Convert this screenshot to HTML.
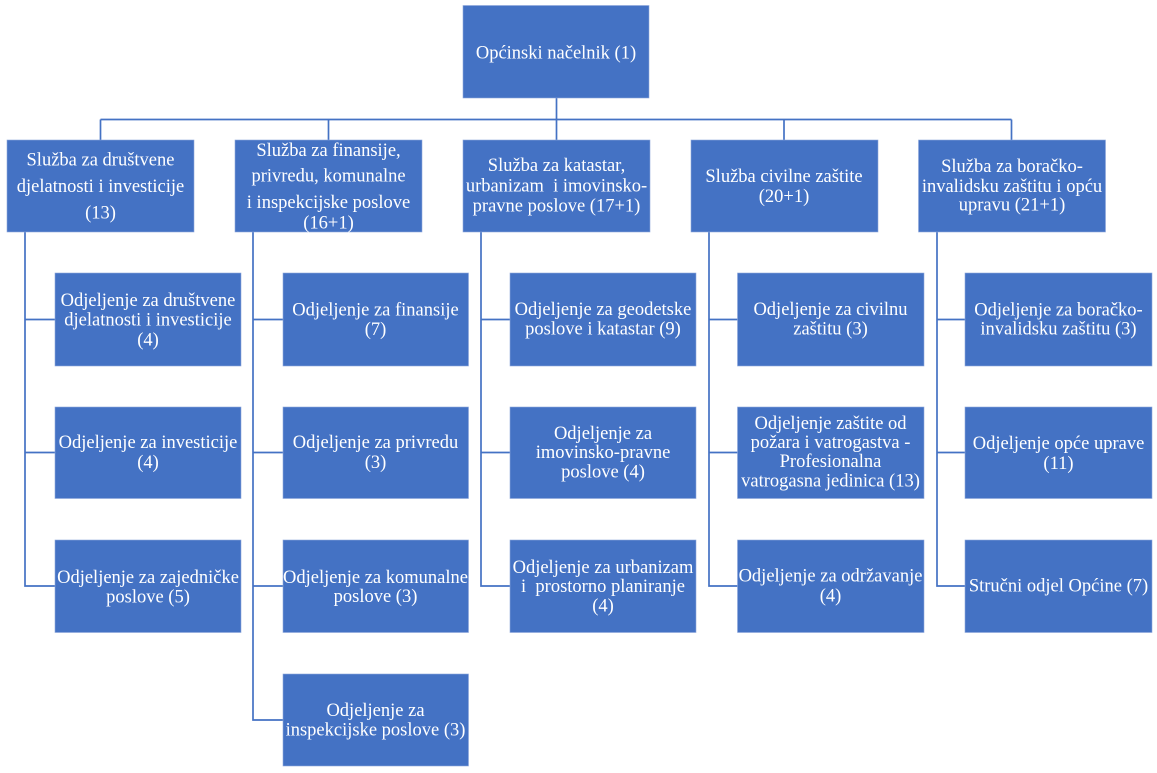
<!DOCTYPE html>
<html>
<head>
<meta charset="utf-8">
<style>
html,body{margin:0;padding:0;background:#fff;}
svg{display:block;}
text{font-family:"Liberation Serif","Times New Roman",serif;font-size:18.5px;fill:#fff;text-anchor:middle;white-space:pre;}
</style>
</head>
<body>
<svg width="1157" height="773" viewBox="0 0 1157 773" xmlns="http://www.w3.org/2000/svg" xml:space="preserve">
<g stroke="#4472C4" stroke-width="1.7" fill="none">
  <line x1="556.5" y1="98" x2="556.5" y2="140"/>
  <line x1="100.5" y1="119.5" x2="1011.5" y2="119.5"/>
  <line x1="100.5" y1="119.5" x2="100.5" y2="140"/>
  <line x1="328.5" y1="119.5" x2="328.5" y2="140"/>
  <line x1="784" y1="119.5" x2="784" y2="140"/>
  <line x1="1011.5" y1="119.5" x2="1011.5" y2="140"/>
  <!-- col1 -->
  <polyline points="25,232 25,586 55,586"/>
  <line x1="25" y1="319.5" x2="55" y2="319.5"/>
  <line x1="25" y1="452.5" x2="55" y2="452.5"/>
  <!-- col2 -->
  <polyline points="253,232 253,720 283,720"/>
  <line x1="253" y1="319.5" x2="283" y2="319.5"/>
  <line x1="253" y1="452.5" x2="283" y2="452.5"/>
  <line x1="253" y1="586" x2="283" y2="586"/>
  <!-- col3 -->
  <polyline points="481,232 481,586 510,586"/>
  <line x1="481" y1="319.5" x2="510" y2="319.5"/>
  <line x1="481" y1="452.5" x2="510" y2="452.5"/>
  <!-- col4 -->
  <polyline points="709,232 709,586 738,586"/>
  <line x1="709" y1="319.5" x2="738" y2="319.5"/>
  <line x1="709" y1="452.5" x2="738" y2="452.5"/>
  <!-- col5 -->
  <polyline points="937,232 937,586 966,586"/>
  <line x1="937" y1="319.5" x2="966" y2="319.5"/>
  <line x1="937" y1="452.5" x2="966" y2="452.5"/>
</g>
<g fill="#4472C4" stroke="#8fa9dc" stroke-width="0.6">
  <rect x="463" y="5.5" width="186" height="92.5"/>
  <rect x="7" y="140" width="187" height="92"/>
  <rect x="235" y="140" width="187" height="92"/>
  <rect x="463" y="140" width="187" height="92"/>
  <rect x="691" y="140" width="187" height="92"/>
  <rect x="918.5" y="140" width="187" height="92"/>

  <rect x="55" y="273" width="186" height="93"/>
  <rect x="55" y="407" width="186" height="91.5"/>
  <rect x="55" y="540" width="186" height="92.5"/>

  <rect x="283" y="273" width="185.5" height="93"/>
  <rect x="283" y="407" width="185.5" height="91.5"/>
  <rect x="283" y="540" width="185.5" height="92.5"/>
  <rect x="283" y="674" width="185.5" height="92"/>

  <rect x="510" y="273" width="186" height="93"/>
  <rect x="510" y="407" width="186" height="91.5"/>
  <rect x="510" y="540" width="186" height="92.5"/>

  <rect x="737.5" y="273" width="186.5" height="93"/>
  <rect x="737.5" y="407" width="186.5" height="91.5"/>
  <rect x="737.5" y="540" width="186.5" height="92.5"/>

  <rect x="965" y="273" width="187" height="93"/>
  <rect x="965" y="407" width="187" height="91.5"/>
  <rect x="965" y="540" width="187" height="92.5"/>
</g>

<text x="556" y="58.5">Općinski načelnik (1)</text>

<text x="100.5" y="165.5">Služba za društvene</text>
<text x="100.5" y="192">djelatnosti i investicije</text>
<text x="100.5" y="218.5">(13)</text>

<text x="328.5" y="156">Služba za finansije,</text>
<text x="328.5" y="181.5">privredu, komunalne</text>
<text x="328.5" y="208">i inspekcijske poslove</text>
<text x="328.5" y="228.5">(16+1)</text>

<text x="556.5" y="171">Služba za katastar,</text>
<text x="556.5" y="191.5">urbanizam  i imovinsko-</text>
<text x="556.5" y="211.5">pravne poslove (17+1)</text>

<text x="784" y="182">Služba civilne zaštite</text>
<text x="784" y="202">(20+1)</text>

<text x="1012" y="172">Služba za boračko-</text>
<text x="1012" y="192">invalidsku zaštitu i opću</text>
<text x="1012" y="210.5">upravu (21+1)</text>

<text x="148" y="306">Odjeljenje za društvene</text>
<text x="148" y="325.5">djelatnosti i investicije</text>
<text x="148" y="345.5">(4)</text>
<text x="148" y="448">Odjeljenje za investicije</text>
<text x="148" y="468">(4)</text>
<text x="148" y="583">Odjeljenje za zajedničke</text>
<text x="148" y="602.5">poslove (5)</text>

<text x="375.5" y="315.5">Odjeljenje za finansije</text>
<text x="375.5" y="335">(7)</text>
<text x="375.5" y="448">Odjeljenje za privredu</text>
<text x="375.5" y="468">(3)</text>
<text x="375.5" y="583">Odjeljenje za komunalne</text>
<text x="375.5" y="602">poslove (3)</text>
<text x="375.5" y="716">Odjeljenje za</text>
<text x="375.5" y="735.5">inspekcijske poslove (3)</text>

<text x="603" y="315">Odjeljenje za geodetske</text>
<text x="603" y="334.5">poslove i katastar (9)</text>
<text x="603" y="439">Odjeljenje za</text>
<text x="603" y="458">imovinsko-pravne</text>
<text x="603" y="477.5">poslove (4)</text>
<text x="603" y="573">Odjeljenje za urbanizam</text>
<text x="603" y="592">i  prostorno planiranje</text>
<text x="603" y="611.5">(4)</text>

<text x="830.5" y="315">Odjeljenje za civilnu</text>
<text x="830.5" y="334.5">zaštitu (3)</text>
<text x="830.5" y="429">Odjeljenje zaštite od</text>
<text x="830.5" y="448">požara i vatrogastva -</text>
<text x="830.5" y="467">Profesionalna</text>
<text x="830.5" y="486.5">vatrogasna jedinica (13)</text>
<text x="830.5" y="581.5">Odjeljenje za održavanje</text>
<text x="830.5" y="601.5">(4)</text>

<text x="1058.5" y="315.5">Odjeljenje za boračko-</text>
<text x="1058.5" y="334.5">invalidsku zaštitu (3)</text>
<text x="1058.5" y="449">Odjeljenje opće uprave</text>
<text x="1058.5" y="469">(11)</text>
<text x="1058.5" y="591.5">Stručni odjel Općine (7)</text>
</svg>
</body>
</html>
